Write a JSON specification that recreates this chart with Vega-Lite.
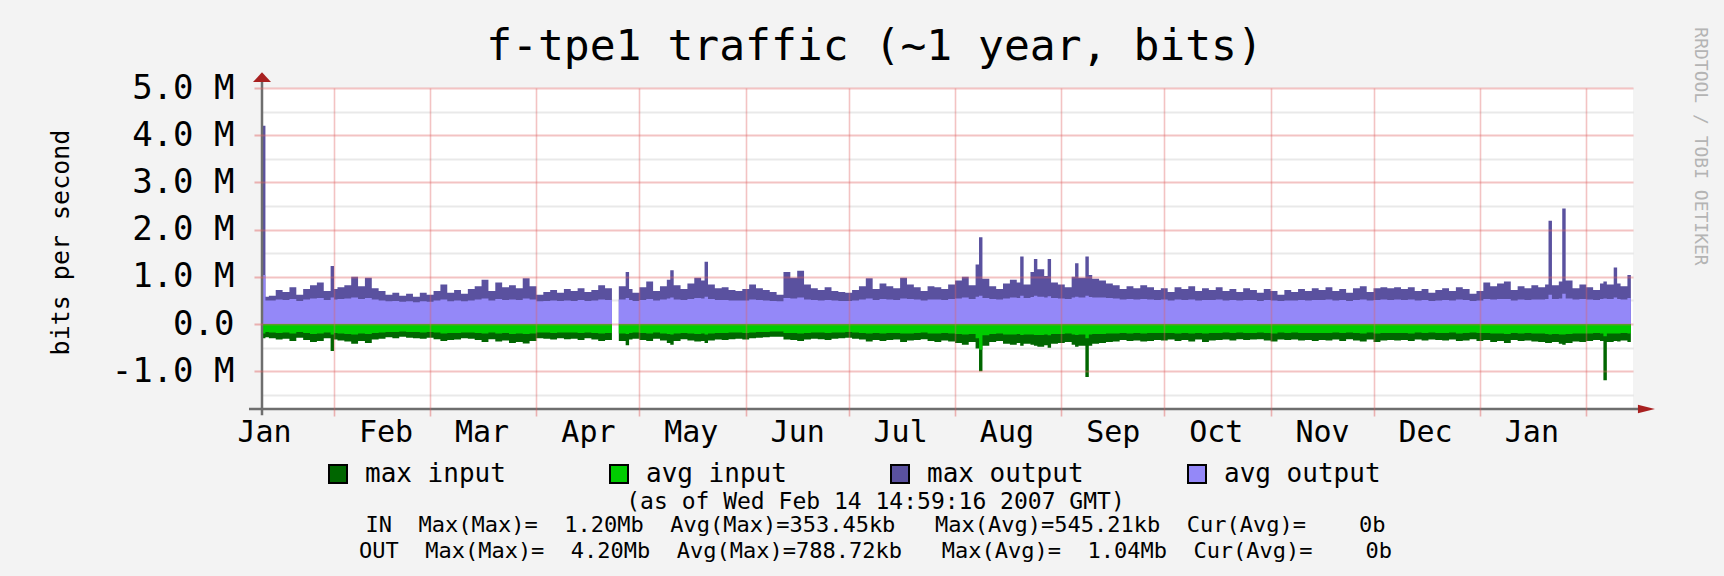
{
  "$schema": "https://vega.github.io/schema/vega-lite/v6.json",
  "width": 1371,
  "height": 321,
  "autosize": {"type": "none"},
  "padding": {"left": 262, "top": 88, "right": 91, "bottom": 167},
  "background": "#f3f3f3",
  "config": {"view": {"stroke": null, "fill": "#ffffff"}, "font": "DejaVu Sans Mono"},
  "title": {
    "text": "(as of Wed Feb 14 14:59:16 2007 GMT)",
    "subtitle": ["\u00a0IN\u00a0\u00a0Max(Max)=\u00a0\u00a01.20Mb\u00a0\u00a0Avg(Max)=353.45kb\u00a0\u00a0\u00a0Max(Avg)=545.21kb\u00a0\u00a0Cur(Avg)=\u00a0\u00a0\u00a0\u00a00b", "OUT\u00a0\u00a0Max(Max)=\u00a0\u00a04.20Mb\u00a0\u00a0Avg(Max)=788.72kb\u00a0\u00a0\u00a0Max(Avg)=\u00a0\u00a01.04Mb\u00a0\u00a0Cur(Avg)=\u00a0\u00a0\u00a0\u00a00b"],
    "orient": "bottom", "anchor": "middle", "frame": "group", "dx": -72, "offset": 4,
    "font": "DejaVu Sans Mono", "fontSize": 23, "fontWeight": "normal", "color": "#000000",
    "subtitleFont": "DejaVu Sans Mono", "subtitleFontSize": 22, "subtitleColor": "#000000",
    "subtitlePadding": 1, "subtitleLineHeight": 26
  },
  "data": {
    "format": {"parse": {"date": "date:'%Y-%m-%d'"}},
    "values": [
      {"date":"2006-01-11","max_in":-0.30,"avg_in":-0.20,"max_out":4.20,"avg_out":1.04},
      {"date":"2006-01-12","max_in":-0.28,"avg_in":-0.17,"max_out":0.58,"avg_out":0.50},
      {"date":"2006-01-13","max_in":-0.30,"avg_in":-0.18,"max_out":0.60,"avg_out":0.50},
      {"date":"2006-01-15","max_in":-0.33,"avg_in":-0.19,"max_out":0.72,"avg_out":0.52},
      {"date":"2006-01-17","max_in":-0.31,"avg_in":-0.18,"max_out":0.68,"avg_out":0.51},
      {"date":"2006-01-19","max_in":-0.36,"avg_in":-0.20,"max_out":0.78,"avg_out":0.53},
      {"date":"2006-01-21","max_in":-0.29,"avg_in":-0.17,"max_out":0.62,"avg_out":0.49},
      {"date":"2006-01-23","max_in":-0.34,"avg_in":-0.19,"max_out":0.74,"avg_out":0.52},
      {"date":"2006-01-25","max_in":-0.38,"avg_in":-0.21,"max_out":0.82,"avg_out":0.54},
      {"date":"2006-01-27","max_in":-0.36,"avg_in":-0.20,"max_out":0.88,"avg_out":0.55},
      {"date":"2006-01-29","max_in":-0.30,"avg_in":-0.18,"max_out":0.70,"avg_out":0.51},
      {"date":"2006-01-31","max_in":-0.57,"avg_in":-0.22,"max_out":1.23,"avg_out":0.56},
      {"date":"2006-02-01","max_in":-0.33,"avg_in":-0.19,"max_out":0.74,"avg_out":0.52},
      {"date":"2006-02-02","max_in":-0.35,"avg_in":-0.20,"max_out":0.78,"avg_out":0.53},
      {"date":"2006-02-04","max_in":-0.37,"avg_in":-0.21,"max_out":0.82,"avg_out":0.54},
      {"date":"2006-02-06","max_in":-0.42,"avg_in":-0.22,"max_out":1.00,"avg_out":0.56},
      {"date":"2006-02-08","max_in":-0.36,"avg_in":-0.20,"max_out":0.80,"avg_out":0.53},
      {"date":"2006-02-10","max_in":-0.40,"avg_in":-0.21,"max_out":0.98,"avg_out":0.55},
      {"date":"2006-02-12","max_in":-0.33,"avg_in":-0.19,"max_out":0.76,"avg_out":0.52},
      {"date":"2006-02-14","max_in":-0.31,"avg_in":-0.18,"max_out":0.70,"avg_out":0.50},
      {"date":"2006-02-16","max_in":-0.28,"avg_in":-0.17,"max_out":0.62,"avg_out":0.48},
      {"date":"2006-02-18","max_in":-0.30,"avg_in":-0.17,"max_out":0.66,"avg_out":0.49},
      {"date":"2006-02-20","max_in":-0.27,"avg_in":-0.16,"max_out":0.60,"avg_out":0.47},
      {"date":"2006-02-22","max_in":-0.29,"avg_in":-0.17,"max_out":0.64,"avg_out":0.48},
      {"date":"2006-02-24","max_in":-0.30,"avg_in":-0.17,"max_out":0.58,"avg_out":0.46},
      {"date":"2006-02-26","max_in":-0.31,"avg_in":-0.18,"max_out":0.66,"avg_out":0.48},
      {"date":"2006-02-28","max_in":-0.29,"avg_in":-0.17,"max_out":0.62,"avg_out":0.47},
      {"date":"2006-03-02","max_in":-0.32,"avg_in":-0.18,"max_out":0.70,"avg_out":0.50},
      {"date":"2006-03-04","max_in":-0.36,"avg_in":-0.20,"max_out":0.84,"avg_out":0.52},
      {"date":"2006-03-06","max_in":-0.34,"avg_in":-0.19,"max_out":0.66,"avg_out":0.48},
      {"date":"2006-03-08","max_in":-0.33,"avg_in":-0.19,"max_out":0.72,"avg_out":0.50},
      {"date":"2006-03-10","max_in":-0.30,"avg_in":-0.18,"max_out":0.64,"avg_out":0.48},
      {"date":"2006-03-12","max_in":-0.31,"avg_in":-0.18,"max_out":0.74,"avg_out":0.50},
      {"date":"2006-03-14","max_in":-0.34,"avg_in":-0.19,"max_out":0.80,"avg_out":0.52},
      {"date":"2006-03-16","max_in":-0.38,"avg_in":-0.20,"max_out":0.94,"avg_out":0.54},
      {"date":"2006-03-18","max_in":-0.32,"avg_in":-0.18,"max_out":0.70,"avg_out":0.50},
      {"date":"2006-03-20","max_in":-0.37,"avg_in":-0.20,"max_out":0.88,"avg_out":0.53},
      {"date":"2006-03-22","max_in":-0.35,"avg_in":-0.19,"max_out":0.78,"avg_out":0.51},
      {"date":"2006-03-24","max_in":-0.40,"avg_in":-0.21,"max_out":0.82,"avg_out":0.52},
      {"date":"2006-03-26","max_in":-0.38,"avg_in":-0.20,"max_out":0.76,"avg_out":0.51},
      {"date":"2006-03-28","max_in":-0.41,"avg_in":-0.21,"max_out":0.97,"avg_out":0.54},
      {"date":"2006-03-30","max_in":-0.36,"avg_in":-0.20,"max_out":0.80,"avg_out":0.52},
      {"date":"2006-04-01","max_in":-0.30,"avg_in":-0.18,"max_out":0.62,"avg_out":0.48},
      {"date":"2006-04-03","max_in":-0.31,"avg_in":-0.18,"max_out":0.68,"avg_out":0.49},
      {"date":"2006-04-05","max_in":-0.33,"avg_in":-0.19,"max_out":0.72,"avg_out":0.50},
      {"date":"2006-04-07","max_in":-0.30,"avg_in":-0.18,"max_out":0.66,"avg_out":0.49},
      {"date":"2006-04-09","max_in":-0.32,"avg_in":-0.18,"max_out":0.74,"avg_out":0.50},
      {"date":"2006-04-11","max_in":-0.31,"avg_in":-0.18,"max_out":0.70,"avg_out":0.49},
      {"date":"2006-04-13","max_in":-0.34,"avg_in":-0.19,"max_out":0.76,"avg_out":0.51},
      {"date":"2006-04-15","max_in":-0.30,"avg_in":-0.18,"max_out":0.68,"avg_out":0.49},
      {"date":"2006-04-17","max_in":-0.33,"avg_in":-0.19,"max_out":0.72,"avg_out":0.50},
      {"date":"2006-04-19","max_in":-0.36,"avg_in":-0.20,"max_out":0.82,"avg_out":0.52},
      {"date":"2006-04-21","max_in":-0.34,"avg_in":-0.19,"max_out":0.76,"avg_out":0.51},
      {"date":"2006-04-23","max_in":-0.30,"avg_in":-0.17,"max_out":0.60,"avg_out":0.47},
      {"date":"2006-04-24","max_in":null,"avg_in":null,"max_out":null,"avg_out":null},
      {"date":"2006-04-25","max_in":-0.36,"avg_in":-0.20,"max_out":0.80,"avg_out":0.52},
      {"date":"2006-04-27","max_in":-0.45,"avg_in":-0.21,"max_out":1.10,"avg_out":0.55},
      {"date":"2006-04-28","max_in":-0.33,"avg_in":-0.19,"max_out":0.74,"avg_out":0.51},
      {"date":"2006-04-29","max_in":-0.31,"avg_in":-0.18,"max_out":0.66,"avg_out":0.49},
      {"date":"2006-05-01","max_in":-0.34,"avg_in":-0.19,"max_out":0.78,"avg_out":0.51},
      {"date":"2006-05-03","max_in":-0.36,"avg_in":-0.20,"max_out":0.90,"avg_out":0.53},
      {"date":"2006-05-05","max_in":-0.31,"avg_in":-0.18,"max_out":0.70,"avg_out":0.50},
      {"date":"2006-05-07","max_in":-0.35,"avg_in":-0.20,"max_out":0.80,"avg_out":0.52},
      {"date":"2006-05-09","max_in":-0.40,"avg_in":-0.21,"max_out":0.94,"avg_out":0.54},
      {"date":"2006-05-10","max_in":-0.44,"avg_in":-0.22,"max_out":1.14,"avg_out":0.56},
      {"date":"2006-05-11","max_in":-0.36,"avg_in":-0.20,"max_out":0.82,"avg_out":0.52},
      {"date":"2006-05-13","max_in":-0.32,"avg_in":-0.19,"max_out":0.74,"avg_out":0.51},
      {"date":"2006-05-15","max_in":-0.35,"avg_in":-0.20,"max_out":0.86,"avg_out":0.53},
      {"date":"2006-05-17","max_in":-0.37,"avg_in":-0.21,"max_out":0.98,"avg_out":0.55},
      {"date":"2006-05-19","max_in":-0.36,"avg_in":-0.20,"max_out":0.92,"avg_out":0.54},
      {"date":"2006-05-20","max_in":-0.40,"avg_in":-0.22,"max_out":1.32,"avg_out":0.58},
      {"date":"2006-05-21","max_in":-0.35,"avg_in":-0.20,"max_out":0.84,"avg_out":0.53},
      {"date":"2006-05-23","max_in":-0.33,"avg_in":-0.19,"max_out":0.76,"avg_out":0.51},
      {"date":"2006-05-25","max_in":-0.34,"avg_in":-0.19,"max_out":0.78,"avg_out":0.51},
      {"date":"2006-05-27","max_in":-0.32,"avg_in":-0.18,"max_out":0.72,"avg_out":0.50},
      {"date":"2006-05-29","max_in":-0.31,"avg_in":-0.18,"max_out":0.70,"avg_out":0.50},
      {"date":"2006-05-31","max_in":-0.33,"avg_in":-0.19,"max_out":0.74,"avg_out":0.50},
      {"date":"2006-06-02","max_in":-0.30,"avg_in":-0.18,"max_out":0.84,"avg_out":0.52},
      {"date":"2006-06-04","max_in":-0.29,"avg_in":-0.17,"max_out":0.76,"avg_out":0.51},
      {"date":"2006-06-06","max_in":-0.28,"avg_in":-0.17,"max_out":0.72,"avg_out":0.50},
      {"date":"2006-06-08","max_in":-0.27,"avg_in":-0.16,"max_out":0.68,"avg_out":0.49},
      {"date":"2006-06-10","max_in":-0.27,"avg_in":-0.16,"max_out":0.62,"avg_out":0.48},
      {"date":"2006-06-12","max_in":-0.33,"avg_in":-0.19,"max_out":1.10,"avg_out":0.55},
      {"date":"2006-06-14","max_in":-0.34,"avg_in":-0.19,"max_out":0.98,"avg_out":0.54},
      {"date":"2006-06-16","max_in":-0.36,"avg_in":-0.20,"max_out":1.13,"avg_out":0.56},
      {"date":"2006-06-18","max_in":-0.33,"avg_in":-0.19,"max_out":0.84,"avg_out":0.52},
      {"date":"2006-06-20","max_in":-0.31,"avg_in":-0.18,"max_out":0.76,"avg_out":0.51},
      {"date":"2006-06-22","max_in":-0.32,"avg_in":-0.18,"max_out":0.72,"avg_out":0.50},
      {"date":"2006-06-24","max_in":-0.34,"avg_in":-0.19,"max_out":0.78,"avg_out":0.51},
      {"date":"2006-06-26","max_in":-0.31,"avg_in":-0.18,"max_out":0.70,"avg_out":0.50},
      {"date":"2006-06-28","max_in":-0.30,"avg_in":-0.18,"max_out":0.68,"avg_out":0.49},
      {"date":"2006-06-30","max_in":-0.29,"avg_in":-0.17,"max_out":0.66,"avg_out":0.49},
      {"date":"2006-07-02","max_in":-0.31,"avg_in":-0.18,"max_out":0.72,"avg_out":0.50},
      {"date":"2006-07-04","max_in":-0.33,"avg_in":-0.19,"max_out":0.80,"avg_out":0.52},
      {"date":"2006-07-06","max_in":-0.37,"avg_in":-0.20,"max_out":0.97,"avg_out":0.54},
      {"date":"2006-07-08","max_in":-0.34,"avg_in":-0.19,"max_out":0.74,"avg_out":0.51},
      {"date":"2006-07-10","max_in":-0.36,"avg_in":-0.20,"max_out":0.86,"avg_out":0.53},
      {"date":"2006-07-12","max_in":-0.34,"avg_in":-0.19,"max_out":0.80,"avg_out":0.52},
      {"date":"2006-07-14","max_in":-0.33,"avg_in":-0.19,"max_out":0.76,"avg_out":0.51},
      {"date":"2006-07-16","max_in":-0.38,"avg_in":-0.20,"max_out":0.98,"avg_out":0.54},
      {"date":"2006-07-18","max_in":-0.35,"avg_in":-0.20,"max_out":0.84,"avg_out":0.53},
      {"date":"2006-07-20","max_in":-0.34,"avg_in":-0.19,"max_out":0.78,"avg_out":0.52},
      {"date":"2006-07-22","max_in":-0.32,"avg_in":-0.18,"max_out":0.70,"avg_out":0.50},
      {"date":"2006-07-24","max_in":-0.36,"avg_in":-0.20,"max_out":0.80,"avg_out":0.52},
      {"date":"2006-07-26","max_in":-0.38,"avg_in":-0.20,"max_out":0.78,"avg_out":0.52},
      {"date":"2006-07-28","max_in":-0.35,"avg_in":-0.19,"max_out":0.74,"avg_out":0.51},
      {"date":"2006-07-30","max_in":-0.37,"avg_in":-0.20,"max_out":0.84,"avg_out":0.53},
      {"date":"2006-08-01","max_in":-0.40,"avg_in":-0.21,"max_out":0.92,"avg_out":0.54},
      {"date":"2006-08-03","max_in":-0.44,"avg_in":-0.22,"max_out":1.00,"avg_out":0.56},
      {"date":"2006-08-05","max_in":-0.38,"avg_in":-0.21,"max_out":0.82,"avg_out":0.53},
      {"date":"2006-08-07","max_in":-0.52,"avg_in":-0.30,"max_out":1.26,"avg_out":0.58},
      {"date":"2006-08-08","max_in":-1.00,"avg_in":-0.545,"max_out":1.84,"avg_out":0.60},
      {"date":"2006-08-09","max_in":-0.46,"avg_in":-0.24,"max_out":0.96,"avg_out":0.55},
      {"date":"2006-08-11","max_in":-0.38,"avg_in":-0.21,"max_out":0.80,"avg_out":0.53},
      {"date":"2006-08-13","max_in":-0.36,"avg_in":-0.20,"max_out":0.74,"avg_out":0.52},
      {"date":"2006-08-15","max_in":-0.42,"avg_in":-0.22,"max_out":0.86,"avg_out":0.54},
      {"date":"2006-08-17","max_in":-0.44,"avg_in":-0.22,"max_out":0.94,"avg_out":0.56},
      {"date":"2006-08-19","max_in":-0.40,"avg_in":-0.21,"max_out":0.88,"avg_out":0.55},
      {"date":"2006-08-20","max_in":-0.46,"avg_in":-0.23,"max_out":1.43,"avg_out":0.60},
      {"date":"2006-08-21","max_in":-0.42,"avg_in":-0.22,"max_out":0.84,"avg_out":0.55},
      {"date":"2006-08-23","max_in":-0.44,"avg_in":-0.22,"max_out":1.10,"avg_out":0.57},
      {"date":"2006-08-24","max_in":-0.46,"avg_in":-0.23,"max_out":1.38,"avg_out":0.60},
      {"date":"2006-08-25","max_in":-0.48,"avg_in":-0.23,"max_out":1.16,"avg_out":0.58},
      {"date":"2006-08-27","max_in":-0.45,"avg_in":-0.22,"max_out":1.02,"avg_out":0.56},
      {"date":"2006-08-28","max_in":-0.50,"avg_in":-0.24,"max_out":1.38,"avg_out":0.59},
      {"date":"2006-08-29","max_in":-0.42,"avg_in":-0.21,"max_out":0.88,"avg_out":0.55},
      {"date":"2006-08-31","max_in":-0.40,"avg_in":-0.21,"max_out":0.84,"avg_out":0.54},
      {"date":"2006-09-02","max_in":-0.38,"avg_in":-0.20,"max_out":0.78,"avg_out":0.53},
      {"date":"2006-09-04","max_in":-0.44,"avg_in":-0.22,"max_out":1.00,"avg_out":0.56},
      {"date":"2006-09-05","max_in":-0.48,"avg_in":-0.23,"max_out":1.29,"avg_out":0.58},
      {"date":"2006-09-06","max_in":-0.46,"avg_in":-0.22,"max_out":0.98,"avg_out":0.56},
      {"date":"2006-09-08","max_in":-1.12,"avg_in":-0.30,"max_out":1.43,"avg_out":0.60},
      {"date":"2006-09-09","max_in":-0.46,"avg_in":-0.22,"max_out":1.04,"avg_out":0.57},
      {"date":"2006-09-10","max_in":-0.42,"avg_in":-0.21,"max_out":0.96,"avg_out":0.56},
      {"date":"2006-09-12","max_in":-0.40,"avg_in":-0.21,"max_out":0.92,"avg_out":0.56},
      {"date":"2006-09-14","max_in":-0.38,"avg_in":-0.20,"max_out":0.86,"avg_out":0.55},
      {"date":"2006-09-16","max_in":-0.37,"avg_in":-0.20,"max_out":0.82,"avg_out":0.54},
      {"date":"2006-09-18","max_in":-0.34,"avg_in":-0.19,"max_out":0.74,"avg_out":0.52},
      {"date":"2006-09-20","max_in":-0.36,"avg_in":-0.20,"max_out":0.80,"avg_out":0.53},
      {"date":"2006-09-22","max_in":-0.35,"avg_in":-0.19,"max_out":0.76,"avg_out":0.52},
      {"date":"2006-09-24","max_in":-0.37,"avg_in":-0.20,"max_out":0.82,"avg_out":0.53},
      {"date":"2006-09-26","max_in":-0.36,"avg_in":-0.19,"max_out":0.78,"avg_out":0.52},
      {"date":"2006-09-28","max_in":-0.34,"avg_in":-0.19,"max_out":0.72,"avg_out":0.51},
      {"date":"2006-09-30","max_in":-0.35,"avg_in":-0.19,"max_out":0.76,"avg_out":0.52},
      {"date":"2006-10-02","max_in":-0.33,"avg_in":-0.19,"max_out":0.68,"avg_out":0.50},
      {"date":"2006-10-04","max_in":-0.36,"avg_in":-0.20,"max_out":0.78,"avg_out":0.52},
      {"date":"2006-10-06","max_in":-0.34,"avg_in":-0.19,"max_out":0.74,"avg_out":0.51},
      {"date":"2006-10-08","max_in":-0.37,"avg_in":-0.20,"max_out":0.80,"avg_out":0.52},
      {"date":"2006-10-10","max_in":-0.33,"avg_in":-0.19,"max_out":0.70,"avg_out":0.50},
      {"date":"2006-10-12","max_in":-0.38,"avg_in":-0.20,"max_out":0.76,"avg_out":0.51},
      {"date":"2006-10-14","max_in":-0.35,"avg_in":-0.19,"max_out":0.72,"avg_out":0.51},
      {"date":"2006-10-16","max_in":-0.34,"avg_in":-0.19,"max_out":0.78,"avg_out":0.52},
      {"date":"2006-10-18","max_in":-0.33,"avg_in":-0.18,"max_out":0.70,"avg_out":0.50},
      {"date":"2006-10-20","max_in":-0.35,"avg_in":-0.19,"max_out":0.74,"avg_out":0.51},
      {"date":"2006-10-22","max_in":-0.32,"avg_in":-0.18,"max_out":0.68,"avg_out":0.50},
      {"date":"2006-10-24","max_in":-0.34,"avg_in":-0.19,"max_out":0.76,"avg_out":0.51},
      {"date":"2006-10-26","max_in":-0.33,"avg_in":-0.19,"max_out":0.72,"avg_out":0.51},
      {"date":"2006-10-28","max_in":-0.32,"avg_in":-0.18,"max_out":0.66,"avg_out":0.49},
      {"date":"2006-10-30","max_in":-0.35,"avg_in":-0.19,"max_out":0.74,"avg_out":0.51},
      {"date":"2006-11-01","max_in":-0.37,"avg_in":-0.20,"max_out":0.70,"avg_out":0.50},
      {"date":"2006-11-03","max_in":-0.33,"avg_in":-0.18,"max_out":0.62,"avg_out":0.49},
      {"date":"2006-11-05","max_in":-0.34,"avg_in":-0.19,"max_out":0.72,"avg_out":0.50},
      {"date":"2006-11-07","max_in":-0.33,"avg_in":-0.18,"max_out":0.68,"avg_out":0.50},
      {"date":"2006-11-09","max_in":-0.35,"avg_in":-0.19,"max_out":0.74,"avg_out":0.51},
      {"date":"2006-11-11","max_in":-0.34,"avg_in":-0.19,"max_out":0.70,"avg_out":0.50},
      {"date":"2006-11-13","max_in":-0.36,"avg_in":-0.19,"max_out":0.76,"avg_out":0.51},
      {"date":"2006-11-15","max_in":-0.34,"avg_in":-0.19,"max_out":0.72,"avg_out":0.51},
      {"date":"2006-11-17","max_in":-0.35,"avg_in":-0.19,"max_out":0.78,"avg_out":0.52},
      {"date":"2006-11-19","max_in":-0.33,"avg_in":-0.18,"max_out":0.70,"avg_out":0.50},
      {"date":"2006-11-21","max_in":-0.36,"avg_in":-0.19,"max_out":0.74,"avg_out":0.51},
      {"date":"2006-11-23","max_in":-0.32,"avg_in":-0.18,"max_out":0.66,"avg_out":0.49},
      {"date":"2006-11-25","max_in":-0.35,"avg_in":-0.19,"max_out":0.76,"avg_out":0.51},
      {"date":"2006-11-27","max_in":-0.37,"avg_in":-0.20,"max_out":0.80,"avg_out":0.52},
      {"date":"2006-11-29","max_in":-0.33,"avg_in":-0.18,"max_out":0.68,"avg_out":0.50},
      {"date":"2006-12-01","max_in":-0.38,"avg_in":-0.20,"max_out":0.76,"avg_out":0.51},
      {"date":"2006-12-03","max_in":-0.35,"avg_in":-0.19,"max_out":0.78,"avg_out":0.52},
      {"date":"2006-12-05","max_in":-0.34,"avg_in":-0.19,"max_out":0.76,"avg_out":0.51},
      {"date":"2006-12-07","max_in":-0.35,"avg_in":-0.19,"max_out":0.78,"avg_out":0.52},
      {"date":"2006-12-09","max_in":-0.34,"avg_in":-0.19,"max_out":0.74,"avg_out":0.51},
      {"date":"2006-12-11","max_in":-0.36,"avg_in":-0.20,"max_out":0.78,"avg_out":0.52},
      {"date":"2006-12-13","max_in":-0.33,"avg_in":-0.18,"max_out":0.70,"avg_out":0.50},
      {"date":"2006-12-15","max_in":-0.35,"avg_in":-0.19,"max_out":0.74,"avg_out":0.51},
      {"date":"2006-12-17","max_in":-0.33,"avg_in":-0.18,"max_out":0.66,"avg_out":0.49},
      {"date":"2006-12-19","max_in":-0.34,"avg_in":-0.19,"max_out":0.72,"avg_out":0.50},
      {"date":"2006-12-21","max_in":-0.35,"avg_in":-0.19,"max_out":0.76,"avg_out":0.51},
      {"date":"2006-12-23","max_in":-0.33,"avg_in":-0.18,"max_out":0.70,"avg_out":0.50},
      {"date":"2006-12-25","max_in":-0.36,"avg_in":-0.20,"max_out":0.78,"avg_out":0.52},
      {"date":"2006-12-27","max_in":-0.35,"avg_in":-0.19,"max_out":0.74,"avg_out":0.51},
      {"date":"2006-12-29","max_in":-0.32,"avg_in":-0.18,"max_out":0.64,"avg_out":0.49},
      {"date":"2006-12-31","max_in":-0.36,"avg_in":-0.19,"max_out":0.70,"avg_out":0.50},
      {"date":"2007-01-02","max_in":-0.34,"avg_in":-0.19,"max_out":0.88,"avg_out":0.53},
      {"date":"2007-01-04","max_in":-0.38,"avg_in":-0.20,"max_out":0.80,"avg_out":0.52},
      {"date":"2007-01-06","max_in":-0.36,"avg_in":-0.20,"max_out":0.86,"avg_out":0.53},
      {"date":"2007-01-08","max_in":-0.40,"avg_in":-0.21,"max_out":0.90,"avg_out":0.53},
      {"date":"2007-01-10","max_in":-0.34,"avg_in":-0.19,"max_out":0.72,"avg_out":0.50},
      {"date":"2007-01-12","max_in":-0.36,"avg_in":-0.20,"max_out":0.80,"avg_out":0.52},
      {"date":"2007-01-14","max_in":-0.35,"avg_in":-0.19,"max_out":0.76,"avg_out":0.51},
      {"date":"2007-01-16","max_in":-0.37,"avg_in":-0.20,"max_out":0.82,"avg_out":0.52},
      {"date":"2007-01-18","max_in":-0.38,"avg_in":-0.20,"max_out":0.78,"avg_out":0.52},
      {"date":"2007-01-20","max_in":-0.40,"avg_in":-0.21,"max_out":0.84,"avg_out":0.53},
      {"date":"2007-01-21","max_in":-0.40,"avg_in":-0.22,"max_out":2.19,"avg_out":0.62},
      {"date":"2007-01-22","max_in":-0.38,"avg_in":-0.21,"max_out":0.82,"avg_out":0.53},
      {"date":"2007-01-24","max_in":-0.42,"avg_in":-0.22,"max_out":0.90,"avg_out":0.54},
      {"date":"2007-01-25","max_in":-0.44,"avg_in":-0.22,"max_out":2.45,"avg_out":0.64},
      {"date":"2007-01-26","max_in":-0.40,"avg_in":-0.21,"max_out":0.92,"avg_out":0.54},
      {"date":"2007-01-28","max_in":-0.37,"avg_in":-0.20,"max_out":0.76,"avg_out":0.52},
      {"date":"2007-01-30","max_in":-0.38,"avg_in":-0.20,"max_out":0.84,"avg_out":0.53},
      {"date":"2007-02-01","max_in":-0.36,"avg_in":-0.20,"max_out":0.78,"avg_out":0.52},
      {"date":"2007-02-03","max_in":-0.34,"avg_in":-0.19,"max_out":0.72,"avg_out":0.51},
      {"date":"2007-02-05","max_in":-0.36,"avg_in":-0.20,"max_out":0.86,"avg_out":0.53},
      {"date":"2007-02-06","max_in":-1.19,"avg_in":-0.26,"max_out":0.90,"avg_out":0.54},
      {"date":"2007-02-07","max_in":-0.38,"avg_in":-0.20,"max_out":0.84,"avg_out":0.53},
      {"date":"2007-02-09","max_in":-0.36,"avg_in":-0.20,"max_out":1.20,"avg_out":0.56},
      {"date":"2007-02-10","max_in":-0.37,"avg_in":-0.20,"max_out":0.86,"avg_out":0.53},
      {"date":"2007-02-11","max_in":-0.35,"avg_in":-0.19,"max_out":0.80,"avg_out":0.52},
      {"date":"2007-02-13","max_in":-0.38,"avg_in":-0.20,"max_out":1.04,"avg_out":0.55},
      {"date":"2007-02-14","max_in":-0.38,"avg_in":-0.20,"max_out":1.04,"avg_out":0.55}
    ]
  },
  "resolve": {"axis": {"x": "independent", "y": "independent"}},
  "layer": [
    {
      "mark": {"type": "area", "interpolate": "step-after", "opacity": 1},
      "encoding": {
        "x": {"field": "date", "type": "temporal",
          "scale": {"domain": [{"year": 2006, "month": 1, "date": 11}, {"year": 2007, "month": 2, "date": 14, "hours": 15}], "nice": false},
          "axis": {"orient": "bottom", "title": null, "format": "%b", "ticks": false, "grid": false, "domain": false,
            "values": [{"year":2006,"month":1,"date":11,"hours":14},{"year":2006,"month":2,"date":16},{"year":2006,"month":3,"date":16},{"year":2006,"month":4,"date":16},{"year":2006,"month":5,"date":16},{"year":2006,"month":6,"date":16},{"year":2006,"month":7,"date":16},{"year":2006,"month":8,"date":16},{"year":2006,"month":9,"date":16},{"year":2006,"month":10,"date":16},{"year":2006,"month":11,"date":16},{"year":2006,"month":12,"date":16},{"year":2007,"month":1,"date":16}],
            "labelFont": "DejaVu Sans Mono", "labelFontSize": 30, "labelColor": "#000000", "labelPadding": 8, "labelFlush": false, "labelOverlap": false, "labelBound": false}},
        "y": {"field": "max_out", "type": "quantitative",
          "scale": {"domain": [-1.8, 5.0], "nice": false, "zero": false},
          "axis": {"orient": "left", "values": [-1, 0, 1, 2, 3, 4, 5],
            "labelExpr": "datum.value == 0 ? '0.0' : (datum.value < 0 ? '-' : '') + format(abs(datum.value), '.1f') + ' M'",
            "grid": true, "gridColor": "#e06060", "gridOpacity": 0.38, "gridWidth": 2,
            "ticks": true, "tickSize": 8, "tickColor": "#e06060", "tickOpacity": 0.45, "tickWidth": 2,
            "domain": false, "labelFont": "DejaVu Sans Mono", "labelFontSize": 34, "labelColor": "#000000", "labelPadding": 20,
            "title": "bits per second", "titleX": -202, "titleY": 154, "titleAngle": -90, "titleAlign": "center", "titleBaseline": "middle",
            "titleFont": "DejaVu Sans Mono", "titleFontSize": 25, "titleFontWeight": "normal", "titleColor": "#000000", "zindex": 1}},
        "color": {"datum": "max output", "type": "nominal",
          "scale": {"domain": ["max input", "avg input", "max output", "avg output"], "range": ["#006600", "#00cc00", "#5a519f", "#9488f8"]},
          "legend": {"orient": "none", "legendX": 63, "legendY": 373, "direction": "horizontal", "title": null,
            "symbolType": "square", "symbolSize": 324, "symbolStrokeColor": "#000000", "symbolStrokeWidth": 2, "symbolOpacity": 1,
            "labelFont": "DejaVu Sans Mono", "labelFontSize": 26, "labelColor": "#000000", "labelOffset": 14, "columnPadding": 100, "padding": 0, "labelLimit": 0}}
      }
    },
    {
      "mark": {"type": "area", "interpolate": "step-after", "opacity": 1},
      "encoding": {
        "x": {"field": "date", "type": "temporal",
          "scale": {"domain": [{"year": 2006, "month": 1, "date": 11}, {"year": 2007, "month": 2, "date": 14, "hours": 15}], "nice": false},
          "axis": {"orient": "bottom", "title": null, "labels": false, "domain": false,
            "values": [{"year":2006,"month":2,"date":1},{"year":2006,"month":3,"date":1},{"year":2006,"month":4,"date":1},{"year":2006,"month":5,"date":1},{"year":2006,"month":6,"date":1},{"year":2006,"month":7,"date":1},{"year":2006,"month":8,"date":1},{"year":2006,"month":9,"date":1},{"year":2006,"month":10,"date":1},{"year":2006,"month":11,"date":1},{"year":2006,"month":12,"date":1},{"year":2007,"month":1,"date":1},{"year":2007,"month":2,"date":1}],
            "grid": true, "gridColor": "#e06060", "gridOpacity": 0.38, "gridWidth": 1.6,
            "ticks": true, "tickSize": 7, "tickColor": "#e06060", "tickOpacity": 0.45, "tickWidth": 1.6, "zindex": 1}},
        "y": {"field": "avg_out", "type": "quantitative",
          "scale": {"domain": [-1.8, 5.0], "nice": false, "zero": false},
          "axis": {"orient": "right", "values": [-1.5, -0.5, 0.5, 1.5, 2.5, 3.5, 4.5], "labels": false, "ticks": false, "domain": false,
            "grid": true, "gridColor": "#909090", "gridOpacity": 0.2, "gridWidth": 2,
            "title": "RRDTOOL / TOBI OETIKER", "titleAngle": 90, "titleX": 66, "titleY": 58, "titleAlign": "center", "titleBaseline": "middle",
            "titleFont": "DejaVu Sans Mono", "titleFontSize": 18, "titleFontWeight": "normal", "titleColor": "#b4b4b4"}},
        "color": {"datum": "avg output", "type": "nominal"}
      }
    },
    {
      "mark": {"type": "area", "interpolate": "step-after", "opacity": 1},
      "encoding": {
        "x": {"field": "date", "type": "temporal",
          "scale": {"domain": [{"year": 2006, "month": 1, "date": 11}, {"year": 2007, "month": 2, "date": 14, "hours": 15}], "nice": false},
          "axis": {"orient": "top", "labels": false, "ticks": false, "grid": false, "domain": false,
            "title": "f-tpe1 traffic (~1 year, bits)", "titleX": 612, "titleY": -42, "titleAlign": "center", "titleBaseline": "middle",
            "titleFont": "DejaVu Sans Mono", "titleFontSize": 43, "titleFontWeight": "normal", "titleColor": "#000000"}},
        "y": {"field": "max_in", "type": "quantitative", "scale": {"domain": [-1.8, 5.0], "nice": false, "zero": false}, "axis": null},
        "color": {"datum": "max input", "type": "nominal"}
      }
    },
    {
      "mark": {"type": "area", "interpolate": "step-after", "opacity": 1},
      "encoding": {
        "x": {"field": "date", "type": "temporal",
          "scale": {"domain": [{"year": 2006, "month": 1, "date": 11}, {"year": 2007, "month": 2, "date": 14, "hours": 15}], "nice": false}, "axis": null},
        "y": {"field": "avg_in", "type": "quantitative", "scale": {"domain": [-1.8, 5.0], "nice": false, "zero": false}, "axis": null},
        "color": {"datum": "avg input", "type": "nominal"}
      }
    },
    {
      "data": {"values": [{}]},
      "mark": {"type": "rule", "color": "#6e6e6e", "strokeWidth": 2.5},
      "encoding": {
        "x": {"datum": {"year": 2006, "month": 1, "date": 7, "hours": 5}, "type": "temporal",
          "scale": {"domain": [{"year": 2006, "month": 1, "date": 11}, {"year": 2007, "month": 2, "date": 14, "hours": 15}], "nice": false}, "axis": null},
        "x2": {"datum": {"year": 2007, "month": 2, "date": 18, "hours": 13}},
        "y": {"datum": -1.8, "type": "quantitative", "scale": {"domain": [-1.8, 5.0], "nice": false, "zero": false}, "axis": null}
      }
    },
    {
      "data": {"values": [{}]},
      "mark": {"type": "rule", "color": "#6e6e6e", "strokeWidth": 2.5},
      "encoding": {
        "x": {"datum": {"year": 2006, "month": 1, "date": 11}, "type": "temporal",
          "scale": {"domain": [{"year": 2006, "month": 1, "date": 11}, {"year": 2007, "month": 2, "date": 14, "hours": 15}], "nice": false}, "axis": null},
        "y": {"datum": -1.93, "type": "quantitative", "scale": {"domain": [-1.8, 5.0], "nice": false, "zero": false}, "axis": null},
        "y2": {"datum": 5.2}
      }
    },
    {
      "data": {"values": [{}]},
      "mark": {"type": "point", "shape": "M-1,0.55L0,-0.55L1,0.55Z", "filled": true, "color": "#a82020", "size": 324, "opacity": 1},
      "encoding": {
        "x": {"datum": {"year": 2006, "month": 1, "date": 11}, "type": "temporal",
          "scale": {"domain": [{"year": 2006, "month": 1, "date": 11}, {"year": 2007, "month": 2, "date": 14, "hours": 15}], "nice": false}, "axis": null},
        "y": {"datum": 5.23, "type": "quantitative", "scale": {"domain": [-1.8, 5.0], "nice": false, "zero": false}, "axis": null}
      }
    },
    {
      "data": {"values": [{}]},
      "mark": {"type": "point", "shape": "M-1,-0.5L1,0L-1,0.5Z", "filled": true, "color": "#a82020", "size": 289, "opacity": 1},
      "encoding": {
        "x": {"datum": {"year": 2007, "month": 2, "date": 18, "hours": 13}, "type": "temporal",
          "scale": {"domain": [{"year": 2006, "month": 1, "date": 11}, {"year": 2007, "month": 2, "date": 14, "hours": 15}], "nice": false}, "axis": null},
        "y": {"datum": -1.8, "type": "quantitative", "scale": {"domain": [-1.8, 5.0], "nice": false, "zero": false}, "axis": null}
      }
    }
  ]
}
